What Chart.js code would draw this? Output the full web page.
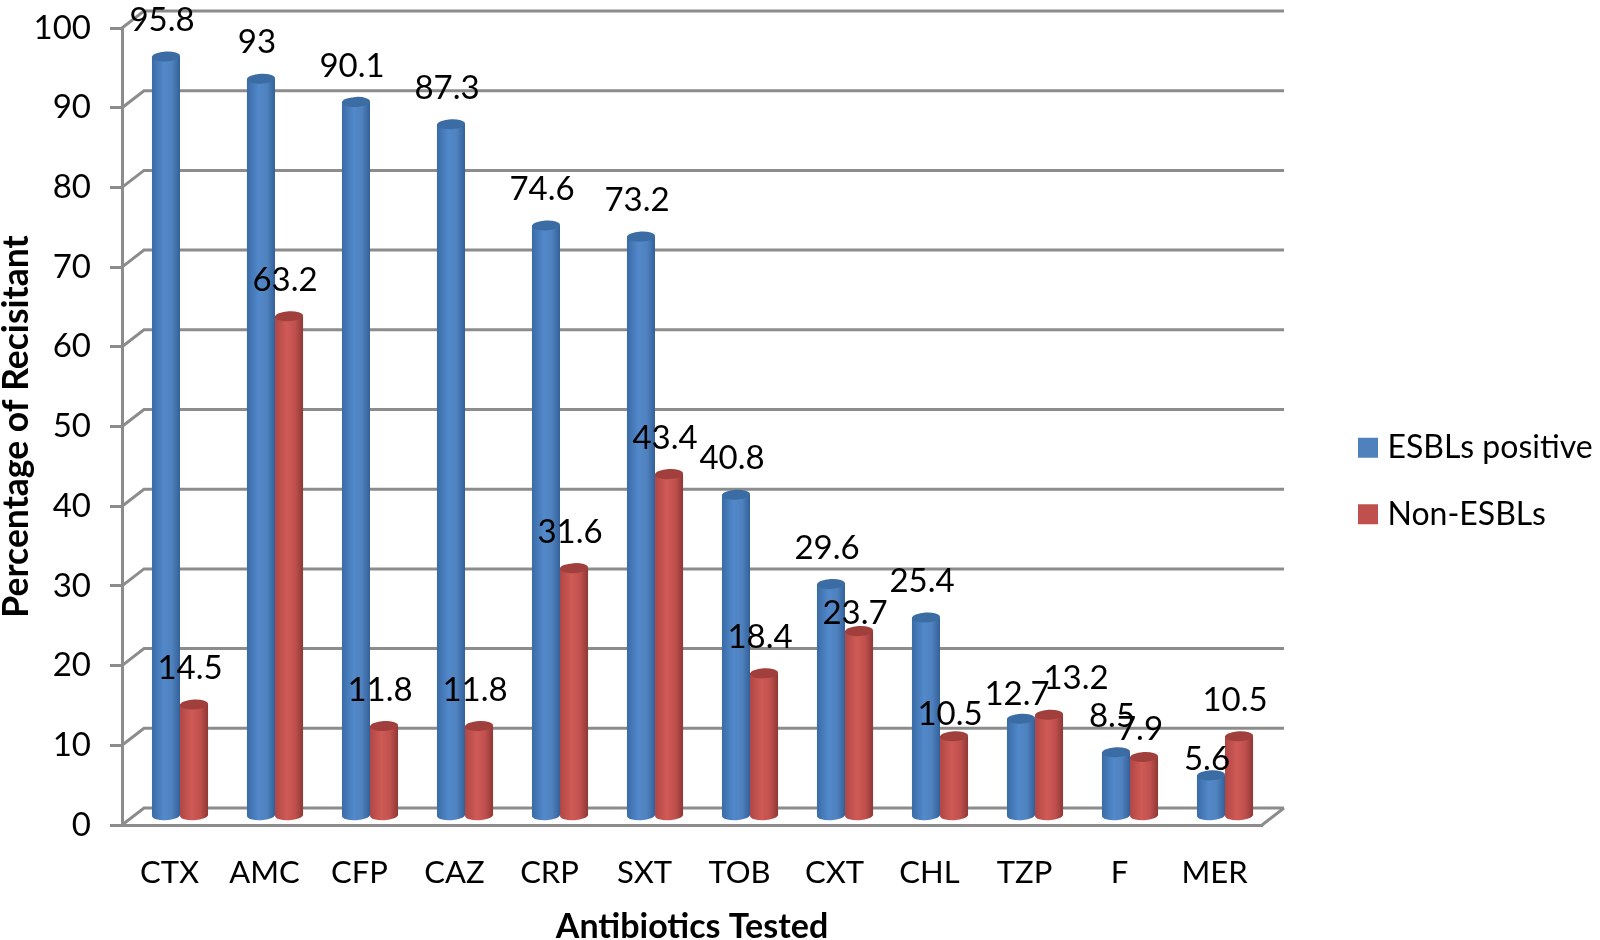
<!DOCTYPE html>
<html>
<head>
<meta charset="utf-8">
<style>html,body{margin:0;padding:0;background:#fff}canvas{display:block}</style>
<script src="https://cdn.jsdelivr.net/npm/chart.js@4"></script>
</head>
<body>
<canvas id="c" width="1600" height="940"></canvas>
<script>
const categories = ['CTX','AMC','CFP','CAZ','CRP','SXT','TOB','CXT','CHL','TZP','F','MER'];
const esblPositive = [95.8,93,90.1,87.3,74.6,73.2,40.8,29.6,25.4,12.7,8.5,5.6];
const nonEsbl = [14.5,63.2,11.8,11.8,31.6,43.4,18.4,23.7,10.5,13.2,7.9,10.5];
const yTicks = [0,10,20,30,40,50,60,70,80,90,100];

const FONT = 'Lato, Carlito, "Open Sans", sans-serif';
const GRID = '#8c8c8c';
const DEPTH_X = 22, DEPTH_Y = -17;      // wall depth of the pseudo-3D frame
const BAR_DX = 10.5, BAR_DY = -5;       // bars stand in the middle of the floor
const CAP_RY = 5;

const shades = [
  {edge:'#3a6ba6', mid:'#5289cb', dark:'#33609a', cap:'#3b6ca3', flat:'#4f81bd'},
  {edge:'#b04744', mid:'#cf5a56', dark:'#8f3836', cap:'#a13f3c', flat:'#c0504d'}
];

function sideGradient(ctx, s, left, right){
  const g = ctx.createLinearGradient(left,0,right,0);
  g.addColorStop(0,s.edge); g.addColorStop(0.42,s.mid); g.addColorStop(0.72,s.flat); g.addColorStop(1,s.dark);
  return g;
}

const wall = {
  id:'wall',
  beforeDatasetsDraw(chart){
    const {ctx,chartArea:a,scales:{y}} = chart;
    ctx.save();
    ctx.strokeStyle = GRID; ctx.lineWidth = 3; ctx.lineJoin='miter';
    yTicks.forEach(v=>{
      const py = y.getPixelForValue(v);
      ctx.beginPath();
      ctx.moveTo(a.left,py);
      ctx.lineTo(a.left+DEPTH_X,py+DEPTH_Y);
      ctx.lineTo(a.right+DEPTH_X,py+DEPTH_Y);
      ctx.stroke();
    });
    ctx.beginPath();
    ctx.moveTo(a.right,a.bottom);
    ctx.lineTo(a.right+DEPTH_X,a.bottom+DEPTH_Y);
    ctx.stroke();
    ctx.restore();
  }
};

const cylinders = {
  id:'cylinders',
  beforeDatasetDraw(chart){
    chart.ctx.save();
    chart.ctx.translate(BAR_DX,BAR_DY);
  },
  afterDatasetDraw(chart,args){
    const ctx = chart.ctx, s = shades[args.index];
    args.meta.data.forEach(el=>{
      const w = el.width/2;
      const g = sideGradient(ctx,s,el.x-w,el.x+w);
      ctx.fillStyle = g;
      ctx.fillRect(el.x-w,el.y,el.width,el.base-el.y);
      ctx.beginPath(); ctx.ellipse(el.x,el.base,w,CAP_RY,-0.05,0,Math.PI*2); ctx.fill();
      ctx.fillStyle = s.cap;
      ctx.beginPath(); ctx.ellipse(el.x,el.y,w,CAP_RY,-0.05,0,Math.PI*2); ctx.fill();
    });
    ctx.restore();
  }
};

const valueLabels = {
  id:'valueLabels',
  afterDatasetsDraw(chart){
    const ctx = chart.ctx;
    // hand-placed labels of the original: dataset:index -> [dx, dy]
    const nudge = {'0:9':[0,12],'0:11':[0,20],'1:7':[0,18],'1:8':[0,14],'1:9':[31,0],'1:10':[0,8]};
    ctx.save();
    ctx.font = '33px '+FONT;
    ctx.fillStyle = '#000';
    ctx.textAlign='center'; ctx.textBaseline='middle';
    chart.data.datasets.forEach((ds,di)=>{
      chart.getDatasetMeta(di).data.forEach((el,i)=>{
        const n = nudge[di+':'+i] || [0,0];
        ctx.fillText(String(ds.data[i]), el.x+BAR_DX-4+n[0], el.y+BAR_DY-36+n[1]);
      });
    });
    ctx.restore();
  }
};

new Chart(document.getElementById('c'),{
  type:'bar',
  data:{
    labels:categories,
    datasets:[
      {label:'ESBLs positive',data:esblPositive,base:0.6,backgroundColor:shades[0].flat,clip:false,categoryPercentage:0.59,barPercentage:1},
      {label:'Non-ESBLs',data:nonEsbl,base:0.6,backgroundColor:shades[1].flat,clip:false,categoryPercentage:0.59,barPercentage:1}
    ]
  },
  plugins:[wall,cylinders,valueLabels],
  options:{
    responsive:false,
    animation:false,
    layout:{padding:{top:28,left:0,right:4,bottom:6}},
    plugins:{
      tooltip:{enabled:false},
      legend:{
        position:'right',
        labels:{
          boxWidth:7,boxHeight:7,padding:34.5,color:'#000',font:{family:FONT,size:32},
          generateLabels(chart){
            return Chart.defaults.plugins.legend.labels.generateLabels(chart)
              .map(item=>({...item,lineWidth:13,strokeStyle:item.fillStyle}));
          }
        }
      }
    },
    scales:{
      x:{
        afterFit(s){s.height=109;s.paddingLeft=0;s.paddingRight=0;},
        grid:{display:false},
        border:{display:true,color:GRID,width:3},
        ticks:{padding:21,color:'#000',font:{family:FONT,size:31},maxRotation:0},
        title:{display:true,text:'Antibiotics Tested',color:'#000',font:{family:FONT,size:34,weight:'bold',lineHeight:1},padding:{top:0,bottom:-10}}
      },
      y:{
        min:0,max:100,
        afterFit(s){s.width=122;s.paddingTop=0;s.paddingBottom=0;},
        afterBuildTicks(s){s.ticks=yTicks.map(v=>({value:v}));},
        grid:{drawOnChartArea:false,drawTicks:true,tickLength:12,color:GRID,lineWidth:3},
        border:{display:true,color:GRID,width:3},
        ticks:{padding:19,color:'#000',font:{family:FONT,size:33}},
        title:{display:true,text:'Percentage of Recisitant',color:'#000',font:{family:FONT,size:35.5,weight:'bold',lineHeight:1},padding:{top:-1,bottom:0}}
      },
      gap:{
        type:'linear',position:'right',display:true,
        afterFit(s){s.width=68;s.paddingTop=0;s.paddingBottom=0;},
        grid:{display:false},border:{display:false},ticks:{display:false}
      }
    }
  }
});
</script>
</body>
</html>
